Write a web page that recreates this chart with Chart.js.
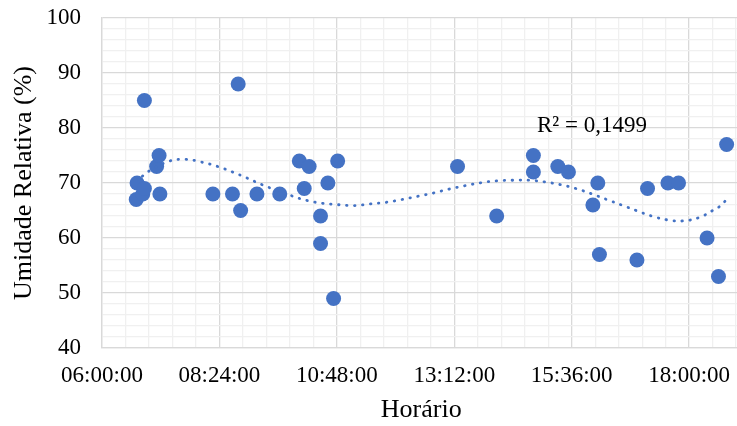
<!DOCTYPE html>
<html>
<head>
<meta charset="utf-8">
<script src="https://cdn.jsdelivr.net/npm/chart.js@4"></script>
<style>
  html, body { margin: 0; padding: 0; background: #fff; overflow: hidden; width: 737px; height: 426px; }
  #wrap { width: 748px; height: 426px; position: relative; }
  canvas { display: block; width: 748px; height: 426px; }
</style>
</head>
<body>
<div id="wrap"><canvas id="c" width="748" height="426"></canvas></div>
<script>
// ---- Data ----
const times = ["06:42","06:43","06:50","06:52","06:52","07:07","07:10","07:11",
  "08:16","08:40","08:47","08:50","09:10","09:38","10:02","10:08","10:14",
  "10:28","10:28","10:37","10:44","10:49","13:16","14:04","14:49","14:49",
  "15:19","15:32","16:02","16:08","16:10","16:56","17:09","17:34","17:47",
  "18:22","18:36","18:46"];
const humidity = [67,70,68,69,85,73,75,68,
  68,68,88,65,68,68,74,69,73,
  59,64,70,49,74,73,64,75,72,
  73,72,66,70,57,56,69,70,70,
  60,53,77];

// dotted trend line
const trendTimes = ["06:42","06:50","06:57","07:23","07:43","08:02","08:22","08:40",
  "08:58","09:16","09:52","10:12","10:31","10:50","11:10","11:29","11:49","12:08",
  "12:28","12:47","13:06","13:25","13:45","14:04","14:24","14:44","15:03","15:22",
  "15:41","16:00","16:19","16:37","16:55","17:14","17:33","17:52","18:12","18:29",
  "18:38","18:46"];
const trendValues = [70.3,71.3,72.1,74.0,74.3,73.8,73.0,72.0,
  70.9,69.7,67.7,66.8,66.3,66.05,65.9,66.2,66.5,67.0,
  67.6,68.2,68.9,69.5,70.05,70.4,70.5,70.5,70.2,69.7,
  69.0,68.05,67.0,66.0,65.0,64.0,63.3,63.1,63.7,65.0,
  65.8,67.0];

const rSquaredLabel = "R² = 0,1499";
const xTitle = "Horário";
const yTitle = "Umidade Relativa (%)";

// ---- helpers ----
function toHours(t) { const p = t.split(":"); return +p[0] + (+p[1]) / 60; }
function fmtTime(h) {
  const m = Math.round(h * 60);
  const hh = Math.floor(m / 60), mm = m % 60;
  return String(hh).padStart(2, "0") + ":" + String(mm).padStart(2, "0") + ":00";
}

const points = times.map((t, i) => ({ x: toHours(t), y: humidity[i] }));
const trend = trendTimes.map((t, i) => ({ x: toHours(t), y: trendValues[i] }));

const BLUE = "#4472C4";
const MAJOR = "#d9d9d9";
const MINOR = "#f0f0f0";
const FONT = "'Liberation Serif', 'Times New Roman', serif";
const X_MIN = 6, X_MAX = 19.05, X_MINOR = 0.48;

const labelPlugin = {
  id: "r2label",
  afterDatasetsDraw(chart) {
    const ctx = chart.ctx;
    ctx.save();
    ctx.font = "23px " + FONT;
    ctx.fillStyle = "#000";
    ctx.textBaseline = "alphabetic";
    ctx.textAlign = "left";
    ctx.fillText(rSquaredLabel, 537, 131.5);
    ctx.restore();
  }
};

new Chart(document.getElementById("c"), {
  type: "scatter",
  data: {
    datasets: [
      {
        label: "trend",
        data: trend,
        showLine: true,
        pointRadius: 0,
        borderColor: BLUE,
        borderWidth: 2.8,
        borderDash: [0.5, 7.5],
        borderCapStyle: "round",
        tension: 0.4,
        order: 0
      },
      {
        label: "Umidade",
        data: points,
        pointRadius: 7.5,
        pointHoverRadius: 7.5,
        backgroundColor: BLUE,
        borderColor: BLUE,
        borderWidth: 0,
        order: 1
      }
    ]
  },
  options: {
    responsive: false,
    animation: false,
    events: [],
    layout: { padding: { left: 0, top: 18, right: 0, bottom: 0 } },
    plugins: { legend: { display: false }, tooltip: { enabled: false } },
    scales: {
      x: {
        type: "linear",
        min: X_MIN,
        max: X_MAX,
        afterBuildTicks(scale) {
          const t = [];
          for (let i = 0; X_MIN + i * X_MINOR < X_MAX - 1e-6; i++) t.push({ value: X_MIN + i * X_MINOR });
          scale.ticks = t;
        },
        afterFit(scale) {
          scale.height = 78;
          scale.paddingLeft = 0; scale.paddingRight = 0;
          scale.paddingTop = 0; scale.paddingBottom = 0;
        },
        ticks: {
          autoSkip: false,
          maxRotation: 0,
          padding: 14,
          color: "#000",
          font: { family: FONT, size: 23 },
          callback(value, index) { return index % 5 === 0 ? fmtTime(value) : ""; }
        },
        grid: {
          drawTicks: false,
          lineWidth: 1.3,
          color(ctx) { return ctx.index % 5 === 0 ? MAJOR : MINOR; }
        },
        border: { color: MAJOR, width: 1.3 },
        title: {
          display: true,
          text: xTitle,
          color: "#000",
          font: { family: FONT, size: 26 },
          padding: { top: 0, bottom: 0.5 }
        }
      },
      y: {
        min: 40,
        max: 100,
        afterFit(scale) {
          scale.width = 102;
          scale.paddingLeft = 0; scale.paddingRight = 0;
          scale.paddingTop = 0; scale.paddingBottom = 0;
        },
        ticks: {
          stepSize: 2,
          autoSkip: false,
          padding: 21,
          color: "#000",
          font: { family: FONT, size: 23 },
          callback(value) { return value % 10 === 0 ? String(value) : ""; }
        },
        grid: {
          drawTicks: false,
          lineWidth: 1.3,
          color(ctx) { return ctx.tick && ctx.tick.value % 10 === 0 ? MAJOR : MINOR; }
        },
        border: { color: MAJOR, width: 1.3 },
        title: {
          display: true,
          text: yTitle,
          color: "#000",
          font: { family: FONT, size: 26 },
          padding: { top: 8.4, bottom: 0 }
        }
      }
    }
  },
  plugins: [labelPlugin]
});
</script>
</body>
</html>
